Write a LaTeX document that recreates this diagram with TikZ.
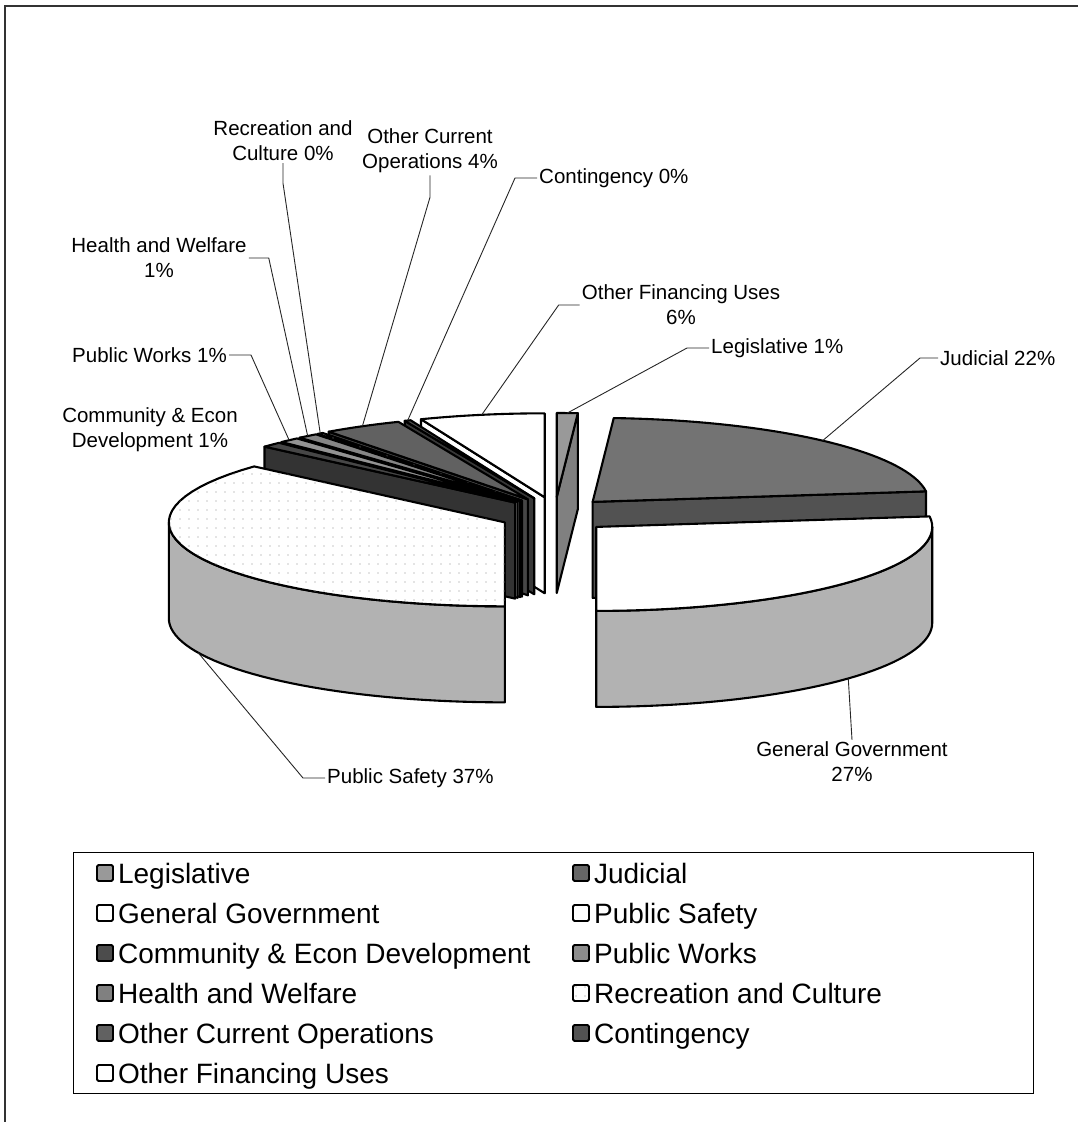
\documentclass[tikz,border=0pt]{standalone}
\usepackage{fontspec}
\setmainfont{Liberation Sans}
\usetikzlibrary{positioning,patterns.meta}

% one exploded slice of the 3D pie: name, start, end, top style, side colour
\newcommand{\pieslice}[5]{%
  \pgfmathsetmacro{\smid}{(#2+#3)/2}
  \pgfmathsetmacro{\sax}{\pcx+\pex*sin(\smid)}
  \pgfmathsetmacro{\say}{\pcy-\pey*cos(\smid)}
  \pgfmathtruncatemacro{\vis}{sin(#2)<(-0.01)}
  \ifnum\vis=1
    \filldraw[rim, fill=#5] (\sax,\say) -- ({\sax+\prx*sin(#2)},{\say-\pry*cos(#2)}) -- ++(0,\pdep) -- (\sax,{\say+\pdep}) -- cycle;
  \fi
  \pgfmathtruncatemacro{\vis}{sin(#3)>0.01}
  \ifnum\vis=1
    \filldraw[rim, fill=#5] (\sax,\say) -- ({\sax+\prx*sin(#3)},{\say-\pry*cos(#3)}) -- ++(0,\pdep) -- (\sax,{\say+\pdep}) -- cycle;
  \fi
  \pgfmathsetmacro{\wa}{max(#2,90)}
  \pgfmathsetmacro{\wb}{min(#3,270)}
  \pgfmathtruncatemacro{\vis}{\wb>\wa}
  \ifnum\vis=1
    \filldraw[rim, fill=#5] plot[domain=\wa:\wb, samples=40] ({\sax+\prx*sin(\x)},{\say-\pry*cos(\x)})
      -- plot[domain=\wb:\wa, samples=40] ({\sax+\prx*sin(\x)},{\say-\pry*cos(\x)+\pdep}) -- cycle;
  \fi
  \filldraw[rim, #4] (\sax,\say) -- plot[domain=#2:#3, samples=40] ({\sax+\prx*sin(\x)},{\say-\pry*cos(\x)}) -- cycle;
  \coordinate (#1-top) at ({\sax+\prx*sin(\smid)},{\say-\pry*cos(\smid)});
  \coordinate (#1-bot) at ({\sax+\prx*sin(\smid)},{\say-\pry*cos(\smid)+\pdep});
}

\tikzset{
  rim/.style={draw=black, line width=2.1pt, line join=round},
  dotface/.style={fill=white, postaction={pattern={Dots[distance=9pt,radius=0.6pt]}, pattern color=black!45}},
  leader/.style={draw=black!85, line width=0.9pt},
  lbl/.style={font=\fontsize{20.5}{25}\selectfont, align=center, inner sep=2pt},
  keybox/.style={draw=black, line width=1.8pt, rounded corners=1.5pt, minimum size=16pt, inner sep=0pt},
  keytext/.style={font=\fontsize{28}{32}\selectfont, inner sep=0pt, text height=22pt, text depth=2pt, anchor=west},
}

\begin{document}
\begin{tikzpicture}[x=1pt,y=-1pt]
  \useasboundingbox (0,0) rectangle (1078,1122);
  \draw[line width=1.2pt, black!80] (5,1122) -- (5,6) -- (1078,6);

  % pie geometry
  \def\pcx{555}
  \def\pcy{515}
  \def\prx{336}
  \def\pry{84}
  \def\pdep{96}
  \def\pex{55}
  \def\pey{18}

  % back slices first
  \pieslice{leg}{0}{3.6}{fill=black!40}{black!50}
  \pieslice{ofu}{338.4}{360}{fill=white}{white}
  \pieslice{cont}{337.32}{338.4}{fill=black!70}{black!78}
  \pieslice{oco}{323.64}{337.32}{fill=black!62}{black!72}
  \pieslice{rec}{322.56}{323.64}{dotface}{black!12}
  \pieslice{hw}{318.96}{322.56}{fill=black!48}{black!58}
  \pieslice{pw}{315.36}{318.96}{fill=black!42}{black!52}
  \pieslice{jud}{3.6}{82.8}{fill=black!55}{black!68}
  \pieslice{ced}{311.76}{315.36}{fill=black!72}{black!80}
  \pieslice{ps}{180}{311.76}{dotface}{black!30}
  \pieslice{gg}{82.8}{180}{fill=white}{black!30}

  % labels
  \node[lbl] (rec) at (283,141) {Recreation and\\Culture 0\%};
  \node[lbl] (oco) at (430,151) {Other Current\\Operations 4\%};
  \node[lbl, anchor=west] (cont) at (537,178) {Contingency 0\%};
  \node[lbl] (hw) at (159,258) {Health and Welfare\\1\%};
  \node[lbl, anchor=east] (pw) at (229,355) {Public Works 1\%};
  \node[lbl] (ced) at (150,430) {Community \& Econ\\Development 1\%};
  \node[lbl] (ofu) at (681,305) {Other Financing Uses\\6\%};
  \node[lbl, anchor=west] (leg) at (709,348) {Legislative 1\%};
  \node[lbl, anchor=west] (jud) at (938,358) {Judicial 22\%};
  \node[lbl] (gg) at (852,762) {General Government\\27\%};
  \node[lbl, anchor=west] (ps) at (325,778) {Public Safety 37\%};

  \draw[leader] (rec.south) -- ++(0,20) -- (rec-top);
  \draw[leader] (oco.south) -- ++(0,22) -- (oco-top);
  \draw[leader] (cont.west) -- ++(-22,0) -- (cont-top);
  \draw[leader] (hw.east) -- ++(20,0) -- (hw-top);
  \draw[leader] (pw.east) -- ++(22,0) -- (pw-top);
  \draw[leader] (ofu.west) -- ++(-21,0) -- (ofu-top);
  \draw[leader] (leg.west) -- ++(-22,0) -- (leg-top);
  \draw[leader] (jud.west) -- ++(-18,0) -- (jud-top);
  \draw[leader] (gg.north) -- (gg-bot);
  \draw[leader] (ps.west) -- ++(-22,0) -- (ps-bot);

  % legend
  \draw[line width=1pt] (73,852) rectangle (1033,1093);
  \node[keybox, fill=black!40] (k-leg) at (105,873) {};
  \node[keytext, right=4pt of k-leg] (t-leg) {Legislative};
  \node[keybox, fill=white] (k-gg) at (105,913) {};
  \node[keytext, right=4pt of k-gg] (t-gg) {General Government};
  \node[keybox, fill=black!70] (k-ced) at (105,953) {};
  \node[keytext, right=4pt of k-ced] (t-ced) {Community \& Econ Development};
  \node[keybox, fill=black!50] (k-hw) at (105,993) {};
  \node[keytext, right=4pt of k-hw] (t-hw) {Health and Welfare};
  \node[keybox, fill=black!62] (k-oco) at (105,1033) {};
  \node[keytext, right=4pt of k-oco] (t-oco) {Other Current Operations};
  \node[keybox, fill=white] (k-ofu) at (105,1073) {};
  \node[keytext, right=4pt of k-ofu] (t-ofu) {Other Financing Uses};

  \node[keybox, fill=black!60] (k-jud) at (581,873) {};
  \node[keytext, right=4pt of k-jud] (t-jud) {Judicial};
  \node[keybox, fill=white] (k-ps) at (581,913) {};
  \node[keytext, right=4pt of k-ps] (t-ps) {Public Safety};
  \node[keybox, fill=black!45] (k-pw) at (581,953) {};
  \node[keytext, right=4pt of k-pw] (t-pw) {Public Works};
  \node[keybox, dotface] (k-rec) at (581,993) {};
  \node[keytext, right=4pt of k-rec] (t-rec) {Recreation and Culture};
  \node[keybox, fill=black!68] (k-cont) at (581,1033) {};
  \node[keytext, right=4pt of k-cont] (t-cont) {Contingency};
\end{tikzpicture}
\end{document}
